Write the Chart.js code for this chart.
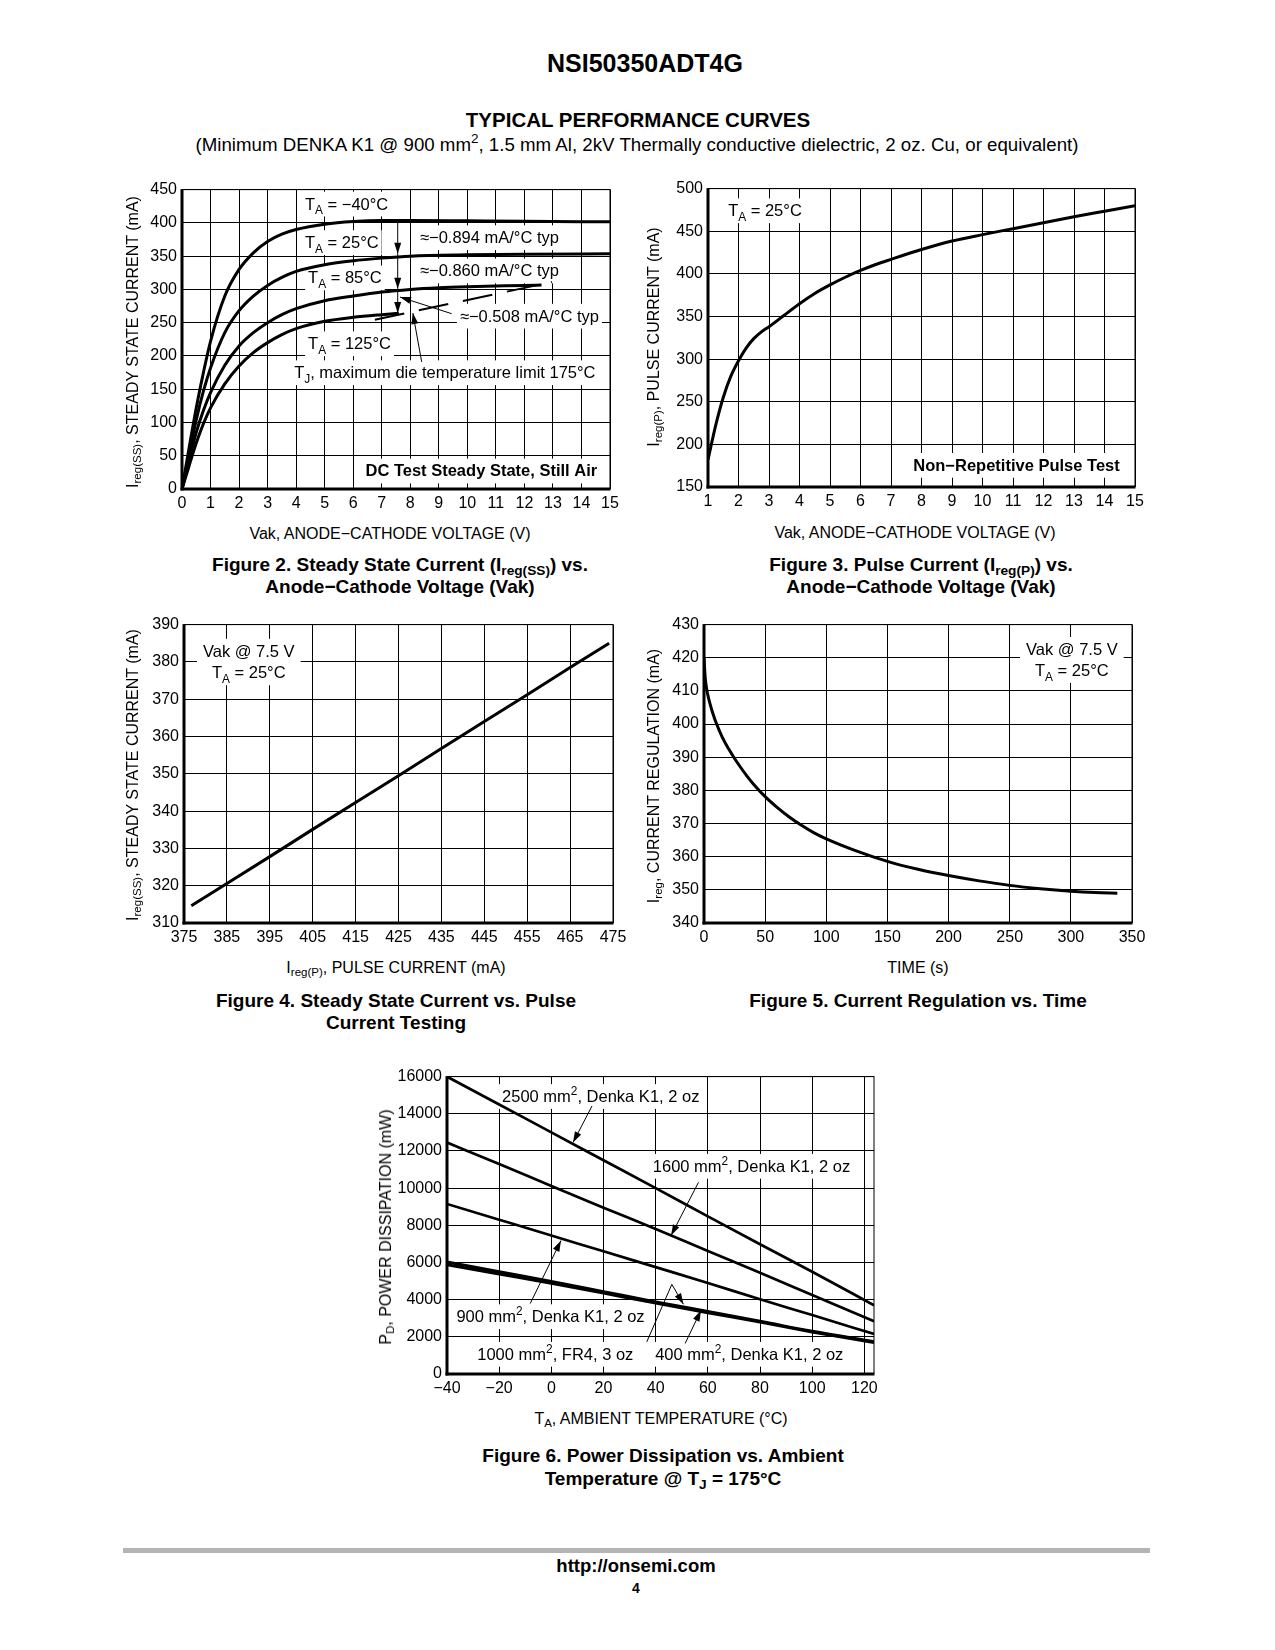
<!DOCTYPE html>
<html lang="en">
<head>
<meta charset="utf-8">
<title>NSI50350ADT4G Typical Performance Curves</title>
<script src="https://cdn.jsdelivr.net/npm/chart.js@4.4.1/dist/chart.umd.min.js"></script>
<style>
html,body{margin:0;padding:0;background:#fff;}
body{width:1275px;height:1650px;position:relative;overflow:hidden;font-family:"Liberation Sans",Arial,Helvetica,sans-serif;color:#000;}
.t{position:absolute;white-space:nowrap;transform:translate(-50%,-50%);line-height:1;}
.r{transform:translate(-50%,-50%) rotate(-90deg);}
.b{font-weight:bold;}
.cap{font-weight:bold;font-size:19px;}
.ax{font-size:16px;}
sub{font-size:72%;vertical-align:-0.3em;line-height:0;}
sup{font-size:72%;vertical-align:0.55em;line-height:0;}
canvas{position:absolute;}
.rule{position:absolute;left:123px;top:1548px;width:1027px;height:5px;background:#b4b4b4;}
</style>
</head>
<body>
<div class="t b" style="left:645px;top:63px;font-size:25px">NSI50350ADT4G</div>
<div class="t b" style="left:638px;top:120px;font-size:20.5px">TYPICAL PERFORMANCE CURVES</div>
<div class="t" style="left:637px;top:145px;font-size:18.7px">(Minimum DENKA K1 @ 900 mm<sup>2</sup>, 1.5 mm Al, 2kV Thermally conductive dielectric, 2 oz. Cu, or equivalent)</div>

<canvas id="c2"></canvas>
<canvas id="c3"></canvas>
<canvas id="c4"></canvas>
<canvas id="c5"></canvas>
<canvas id="c6"></canvas>

<!-- axis titles -->
<div class="t ax" style="left:390px;top:534px">Vak, ANODE&minus;CATHODE VOLTAGE (V)</div>
<div class="t ax r" style="left:133px;top:342px">I<sub>reg(SS)</sub>, STEADY STATE CURRENT (mA)</div>
<div class="t ax" style="left:915px;top:533px">Vak, ANODE&minus;CATHODE VOLTAGE (V)</div>
<div class="t ax r" style="left:654px;top:337px">I<sub>reg(P)</sub>, PULSE CURRENT (mA)</div>
<div class="t ax" style="left:396px;top:968px">I<sub>reg(P)</sub>, PULSE CURRENT (mA)</div>
<div class="t ax r" style="left:133px;top:775px">I<sub>reg(SS)</sub>, STEADY STATE CURRENT (mA)</div>
<div class="t ax" style="left:918px;top:968px">TIME (s)</div>
<div class="t ax r" style="left:654px;top:776px">I<sub>reg</sub>, CURRENT REGULATION (mA)</div>
<div class="t ax" style="left:661px;top:1419px">T<sub>A</sub>, AMBIENT TEMPERATURE (°C)</div>
<div class="t ax r" style="left:386px;top:1227px">P<sub>D</sub>, POWER DISSIPATION (mW)</div>

<!-- captions -->
<div class="t cap" style="left:400px;top:564px">Figure 2. Steady State Current (I<sub>reg(SS)</sub>) vs.</div>
<div class="t cap" style="left:400px;top:586px">Anode&minus;Cathode Voltage (Vak)</div>
<div class="t cap" style="left:921px;top:564px">Figure 3. Pulse Current (I<sub>reg(P)</sub>) vs.</div>
<div class="t cap" style="left:921px;top:586px">Anode&minus;Cathode Voltage (Vak)</div>
<div class="t cap" style="left:396px;top:1000px">Figure 4. Steady State Current vs. Pulse</div>
<div class="t cap" style="left:396px;top:1022px">Current Testing</div>
<div class="t cap" style="left:918px;top:1000px">Figure 5. Current Regulation vs. Time</div>
<div class="t cap" style="left:663px;top:1455px">Figure 6. Power Dissipation vs. Ambient</div>
<div class="t cap" style="left:663px;top:1478px">Temperature @ T<sub>J</sub> = 175°C</div>

<div class="rule"></div>
<div class="t b" style="left:636px;top:1566px;font-size:18.5px">http://onsemi.com</div>
<div class="t b" style="left:636px;top:1588px;font-size:14px">4</div>

<script>
// ---------------- DATA ----------------
// Figure 2: steady state current vs Vak
const fig2XTicks = [0,1,2,3,4,5,6,7,8,9,10,11,12,13,14,15];
const fig2YTicks = [0,50,100,150,200,250,300,350,400,450];
const f2V_m40 = [0,0.25,0.5,0.75,1,1.5,2,2.5,3,3.5,4,5,6,7,8,10,12,15];
const f2I_m40 = [0,62,122,175,222,290,330,355,372,383,390,398,402,403.5,403.5,403,402.5,401.5];
const f2V_25  = [0,0.25,0.5,0.75,1,1.5,2,2.5,3,3.5,4,5,6,7,8,10,12,15];
const f2I_25  = [0,53,104,147,182,235,268,290,306,318,327,337,343,347,350,352,353,353.5];
const f2V_85  = [0,0.25,0.5,0.75,1,1.5,2,2.5,3,3.5,4,5,6,7,8,9,10,11,12,12.6];
const f2I_85  = [0,43,85,118,145,186,215,235,250,262,271,283,290,296,300,302.5,304,305,306,306.5];
const f2V_125 = [0,0.25,0.5,0.75,1,1.5,2,2.5,3,3.5,4,5,6,7,7.6];
const f2I_125 = [0,35,69,98,122,158,185,205,220,232,241,252,258,262,264];

// Figure 3: pulse current vs Vak
const fig3XTicks = [1,2,3,4,5,6,7,8,9,10,11,12,13,14,15];
const fig3YTicks = [150,200,250,300,350,400,450,500];
const f3V = [1,1.25,1.5,1.75,2,2.25,2.5,2.75,3,3.5,4,4.5,5,5.5,6,6.5,7,8,9,10,11,12,13,14,15];
const f3I = [182,222,255,280,298,313,324,332,338,351.5,365,377,387,396,404,411,417,428.5,438.5,446,453,460,467,473.5,480];

// Figure 4: steady state current vs pulse current
const fig4XTicks = [375,385,395,405,415,425,435,445,455,465,475];
const fig4YTicks = [310,320,330,340,350,360,370,380,390];
const f4Pulse  = [376.7,385,395,405,415,425,435,445,455,465,474.1];
const f4Steady = [314.6,320.6,327.8,335.1,342.3,349.5,356.8,364,371.2,378.5,385];

// Figure 5: current regulation vs time
const fig5XTicks = [0,50,100,150,200,250,300,350];
const fig5YTicks = [340,350,360,370,380,390,400,410,420,430];
const f5Time = [0,1,2,3,5,7,10,15,20,25,30,35,40,50,60,70,80,90,100,125,150,175,200,225,250,275,300,320,338];
const f5Ireg = [420,414,411,409,406,403.5,400.3,396,392.6,389.6,386.9,384.4,382.1,378.1,374.8,371.9,369.4,367.2,365.4,361.7,358.6,356.2,354.3,352.7,351.35,350.35,349.6,349.2,349.0];

// Figure 6: power dissipation vs ambient temperature
const fig6XTicks = [-40,-20,0,20,40,60,80,100,120];
const fig6YTicks = [0,2000,4000,6000,8000,10000,12000,14000,16000];
const f6Temp    = [-40,-20,0,20,40,60,80,100,123.7];
const f6P2500   = [16000,14500,13000,11500,10000,8480,6980,5500,3700];
const f6P1600   = [12450,11300,10120,8950,7800,6620,5450,4250,2840];
const f6P900    = [9150,8300,7450,6600,5750,4900,4020,3170,2150];
const f6P1000FR4= [6030,5500,4980,4430,3880,3360,2840,2300,1740];
const f6P400    = [5880,5380,4880,4350,3820,3300,2790,2260,1690];

// ---------------- ANNOTATIONS (label / arrow config) ----------------
const ANN = {
  c2: {
    labels: [
      {x:4.31,y:429,segs:[['T'],['A','sub'],[' = \u221240°C']]},
      {x:4.31,y:371,segs:[['T'],['A','sub'],[' = 25°C']]},
      {x:4.42,y:318,segs:[['T'],['A','sub'],[' = 85°C']]},
      {x:4.42,y:219,segs:[['T'],['A','sub'],[' = 125°C']]},
      {x:8.34,y:378.5,segs:[['\u2248\u22120.894 mA/°C typ']]},
      {x:8.34,y:328.5,segs:[['\u2248\u22120.860 mA/°C typ']]},
      {x:9.74,y:260.5,segs:[['\u2248\u22120.508 mA/°C typ']]},
      {x:3.93,y:175.5,segs:[['T'],['J','sub'],[', maximum die temperature limit 175°C']]},
      {x:14.55,y:27.8,anchor:'right',bold:true,segs:[['DC Test Steady State, Still Air']]}
    ],
    arrows: [
      {pts:[[7.56,403.5],[7.56,353.5]]},
      {pts:[[7.56,353.5],[7.56,301]]},
      {pts:[[7.56,301],[7.56,264.5]]},
      {pts:[[9.45,263.5],[7.64,288.5]]},
      {pts:[[8.40,191],[8.09,264.5]]},
      {pts:[[6.76,254.5],[12.96,311]],head:false,width:2,dash:[30,15]}
    ]
  },
  c3: {
    labels: [
      {x:1.66,y:474.6,segs:[['T'],['A','sub'],[' = 25°C']]},
      {x:14.5,y:176,anchor:'right',bold:true,segs:[['Non\u2212Repetitive Pulse Test']]}
    ],
    arrows: []
  },
  c4: {
    labels: [
      {x:390.1,y:383,anchor:'center',pad:6,segs:[['Vak @ 7.5 V']]},
      {x:390.1,y:377.2,anchor:'center',pad:6,segs:[['T'],['A','sub'],[' = 25°C']]}
    ],
    arrows: []
  },
  c5: {
    labels: [
      {x:300.8,y:422.7,anchor:'center',pad:6,segs:[['Vak @ 7.5 V']]},
      {x:300.8,y:416.3,anchor:'center',pad:6,segs:[['T'],['A','sub'],[' = 25°C']]}
    ],
    arrows: []
  },
  c6: {
    labels: [
      {x:-18.9,y:14954,segs:[['2500 mm'],['2','sup'],[', Denka K1, 2 oz']]},
      {x:38.9,y:11202,segs:[['1600 mm'],['2','sup'],[', Denka K1, 2 oz']]},
      {x:-36.4,y:3109,segs:[['900 mm'],['2','sup'],[', Denka K1, 2 oz']]},
      {x:-28.4,y:1088,segs:[['1000 mm'],['2','sup'],[', FR4, 3 oz']]},
      {x:39.8,y:1088,segs:[['400 mm'],['2','sup'],[', Denka K1, 2 oz']]}
    ],
    arrows: [
      {pts:[[15.6,14418],[8.3,12451]]},
      {pts:[[56.4,10307],[45.9,7450]]},
      {pts:[[-8.1,3790],[3.7,7182]]},
      {pts:[[36.6,1731],[46.2,4824],[50.65,3752]]},
      {pts:[[51.3,1645],[57.4,3430]]}
    ]
  }
};

// ---------------- RENDERING ----------------
const FF = '"Liberation Sans", Arial, Helvetica, sans-serif';
Chart.defaults.font.family = FF;
Chart.defaults.color = '#000';

function fnt(size,bold){ return (bold?'bold ':'') + size + 'px ' + FF; }
function richWidth(ctx,segs,size,bold){
  let w=0;
  for (const s of segs){ ctx.font = fnt(s[1]?size*0.72:size,bold); w += ctx.measureText(s[0]).width; }
  return w;
}
function drawRich(ctx,segs,x,y,size,bold){
  ctx.textAlign='left'; ctx.textBaseline='alphabetic'; ctx.fillStyle='#000';
  const base = y + size*0.36;
  for (const s of segs){
    const sz = s[1]?size*0.72:size;
    ctx.font = fnt(sz,bold);
    let dy = 0;
    if (s[1]==='sub') dy = size*0.28;
    if (s[1]==='sup') dy = -size*0.42;
    ctx.fillText(s[0], x, base+dy);
    x += ctx.measureText(s[0]).width;
  }
}
function labelGeom(ctx,l,xs,ys){
  const size = l.size||16.5;
  const w = richWidth(ctx,l.segs,size,l.bold);
  const px = xs.getPixelForValue(l.x), py = ys.getPixelForValue(l.y);
  const x0 = l.anchor==='right' ? px-w : (l.anchor==='center' ? px-w/2 : px);
  const pad = (l.pad!==undefined)?l.pad:3;
  return {x:x0,y:py,size,rect:{x:x0-pad,y:py-size*0.72,w:w+2*pad,h:size*1.5}};
}
function drawArrow(ctx,pts,a){
  ctx.save();
  ctx.strokeStyle='#000'; ctx.fillStyle='#000';
  ctx.lineWidth = a.width||1;
  ctx.setLineDash(a.dash||[]);
  ctx.beginPath();
  ctx.moveTo(pts[0][0],pts[0][1]);
  for (let i=1;i<pts.length;i++) ctx.lineTo(pts[i][0],pts[i][1]);
  ctx.stroke();
  ctx.setLineDash([]);
  if (a.head!==false){
    const [x1,y1]=pts[pts.length-2], [x2,y2]=pts[pts.length-1];
    const ang=Math.atan2(y2-y1,x2-x1), L=11, W=3.5;
    const c=Math.cos(ang), s=Math.sin(ang);
    ctx.beginPath();
    ctx.moveTo(x2,y2);
    ctx.lineTo(x2-L*c+W*s, y2-L*s-W*c);
    ctx.lineTo(x2-L*c-W*s, y2-L*s+W*c);
    ctx.closePath(); ctx.fill();
  }
  ctx.restore();
}

const annotPlugin = {
  id:'annot',
  beforeDatasetsDraw(chart){
    const a = ANN[chart.canvas.id]; const ctx = chart.ctx;
    const xs = chart.scales.x, ys = chart.scales.y, ca = chart.chartArea;
    ctx.save();
    if (a){
      ctx.fillStyle='#fff';
      for (const l of a.labels){ const g = labelGeom(ctx,l,xs,ys); ctx.fillRect(g.rect.x,g.rect.y,g.rect.w,g.rect.h); }
    }
    // frame: thin top/right, thick left/bottom
    ctx.fillStyle='#000';
    ctx.fillRect(ca.left, ca.top-0.5, ca.right-ca.left, 1);
    ctx.fillRect(ca.right-0.5, ca.top-0.5, 1, ca.bottom-ca.top);
    ctx.fillRect(ca.left-1.5, ca.top-0.5, 3, ca.bottom-ca.top+2);
    ctx.fillRect(ca.left-1.5, ca.bottom-1.5, ca.right-ca.left+2, 3);
    ctx.restore();
  },
  afterDatasetsDraw(chart){
    const a = ANN[chart.canvas.id]; if (!a) return;
    const ctx = chart.ctx, xs = chart.scales.x, ys = chart.scales.y;
    ctx.save();
    for (const ar of a.arrows){
      const pts = ar.pts.map(p=>[xs.getPixelForValue(p[0]), ys.getPixelForValue(p[1])]);
      drawArrow(ctx,pts,ar);
    }
    for (const l of a.labels){
      const g = labelGeom(ctx,l,xs,ys);
      drawRich(ctx,l.segs,g.x,g.y,g.size,l.bold);
    }
    ctx.restore();
  }
};
Chart.register(annotPlugin);

function pts(xs,ys){ return xs.map((v,i)=>({x:v,y:ys[i]})); }
function series(xs,ys,width,smooth){
  return {data:pts(xs,ys), borderColor:'#000', borderWidth:width, pointRadius:0, fill:false,
          tension: smooth?0.4:0, cubicInterpolationMode: smooth?'monotone':'default'};
}
function fmt(v){ return v<0 ? '\u2212'+Math.abs(v) : String(v); }

function makeChart(id, rect, xr, yr, datasets){
  const YW=60, XH=28, PT=14, PR=24;
  const cv=document.getElementById(id);
  const w=rect.R-rect.L+YW+PR, h=rect.B-rect.T+PT+XH;
  cv.width=w; cv.height=h;
  cv.style.left=(rect.L-YW)+'px'; cv.style.top=(rect.T-PT)+'px';
  cv.style.width=w+'px'; cv.style.height=h+'px';
  const gridOpts = {color:'#000', lineWidth:1, drawTicks:false};
  return new Chart(cv,{
    type:'line',
    data:{datasets},
    options:{
      responsive:false, animation:false, devicePixelRatio:1,
      layout:{padding:{left:0,right:PR,top:PT,bottom:0}},
      plugins:{legend:{display:false}, tooltip:{enabled:false}, title:{display:false}},
      scales:{
        x:{type:'linear', min:xr.min, max:xr.max,
           afterBuildTicks:s=>{ s.ticks = xr.ticks.map(v=>({value:v})); },
           afterFit:s=>{ s.height=XH; },
           grid:gridOpts, border:{display:false},
           ticks:{color:'#000', font:{size:16}, padding:5, maxRotation:0, autoSkip:false, callback:v=>fmt(v)}},
        y:{type:'linear', min:yr.min, max:yr.max,
           afterBuildTicks:s=>{ s.ticks = yr.ticks.map(v=>({value:v})); },
           afterFit:s=>{ s.width=YW; },
           grid:gridOpts, border:{display:false},
           ticks:{color:'#000', font:{size:16}, padding:5, autoSkip:false, callback:v=>fmt(v)}}
      }
    }
  });
}

makeChart('c2', {L:182,T:189,R:610,B:489},
  {min:0,max:15,ticks:fig2XTicks}, {min:0,max:450,ticks:fig2YTicks},
  [series(f2V_m40,f2I_m40,3,true), series(f2V_25,f2I_25,3,true),
   series(f2V_85,f2I_85,3,true), series(f2V_125,f2I_125,3,true)]);

makeChart('c3', {L:708,T:188,R:1135,B:487},
  {min:1,max:15,ticks:fig3XTicks}, {min:150,max:500,ticks:fig3YTicks},
  [series(f3V,f3I,3,true)]);

makeChart('c4', {L:184,T:624,R:613,B:923},
  {min:375,max:475,ticks:fig4XTicks}, {min:310,max:390,ticks:fig4YTicks},
  [series(f4Pulse,f4Steady,3,false)]);

makeChart('c5', {L:704,T:624,R:1132,B:923},
  {min:0,max:350,ticks:fig5XTicks}, {min:340,max:430,ticks:fig5YTicks},
  [series(f5Time,f5Ireg,3,true)]);

makeChart('c6', {L:447,T:1076,R:874,B:1374},
  {min:-40,max:123.7,ticks:fig6XTicks}, {min:0,max:16000,ticks:fig6YTicks},
  [series(f6Temp,f6P2500,2.7,true), series(f6Temp,f6P1600,2.7,true),
   series(f6Temp,f6P900,2.7,true), series(f6Temp,f6P1000FR4,3,true),
   series(f6Temp,f6P400,3,true)]);
</script>
</body>
</html>
